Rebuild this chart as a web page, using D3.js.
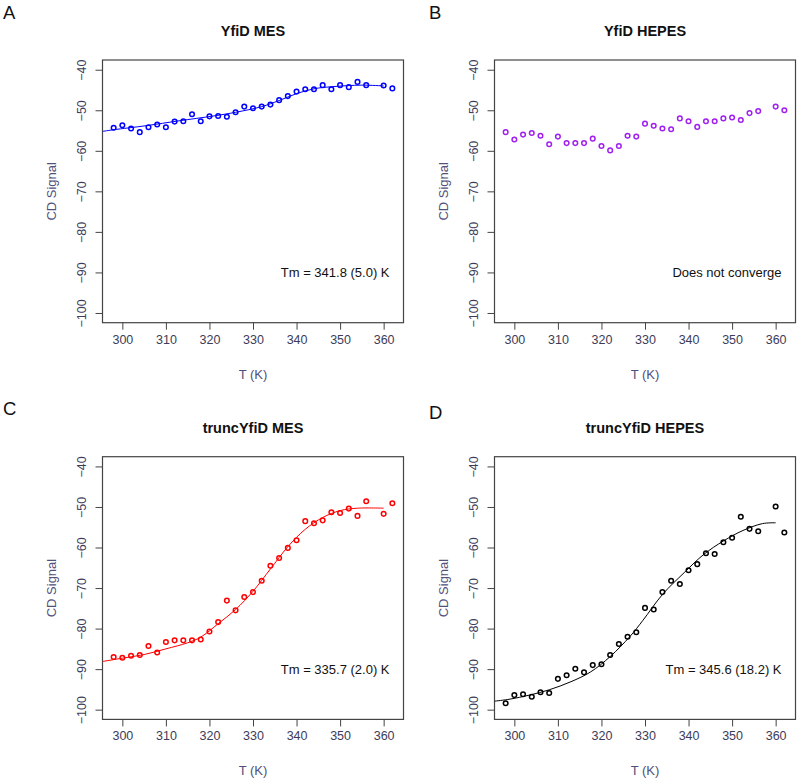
<!DOCTYPE html>
<html>
<head>
<meta charset="utf-8">
<script src="https://cdn.jsdelivr.net/npm/d3@7/dist/d3.min.js"></script>
<style>
body { margin: 0; background: #fff; }
text { font-family: "Liberation Sans", Arial, sans-serif; }
</style>
</head>
<body>
<div id="chart"></div>
<script>
var width = 800, height = 782;

// measured temperatures (K), 358 missing in every run
var temps = [298,300,302,304,306,308,310,312,314,316,318,320,322,324,326,328,
  330,332,334,336,338,340,342,344,346,348,350,352,354,356,360,362];

var yfidMes = [-54.3,-53.7,-54.5,-55.4,-54.2,-53.5,-54.2,-52.8,-52.7,-51.0,-52.7,-51.5,
  -51.4,-51.6,-50.5,-49.1,-49.5,-49.1,-48.6,-47.5,-46.5,-45.4,-44.8,-44.8,-43.8,-44.8,
  -43.8,-44.3,-43.0,-43.8,-43.9,-44.6];
var yfidHepes = [-55.4,-57.2,-56.0,-55.6,-56.3,-58.4,-56.5,-58.1,-58.1,-58.1,-57.0,-58.8,
  -59.9,-58.8,-56.3,-56.5,-53.3,-53.8,-54.5,-54.7,-52.0,-52.7,-54.1,-52.7,-52.7,-52.0,
  -51.8,-52.4,-50.7,-50.2,-49.1,-50.0];
var truncMes = [-87.0,-87.2,-86.7,-86.5,-84.3,-85.9,-83.3,-82.9,-82.9,-82.9,-82.7,-80.7,
  -78.4,-73.1,-75.5,-72.2,-71.0,-68.2,-64.5,-62.6,-60.1,-58.2,-53.5,-54.0,-53.3,-51.3,
  -51.5,-50.4,-52.2,-48.6,-51.7,-49.1];
var truncHepes = [-98.4,-96.4,-96.2,-96.8,-95.7,-95.9,-92.4,-91.5,-89.9,-90.8,-89.0,-88.8,
  -86.5,-83.8,-82.0,-80.9,-74.9,-75.3,-71.0,-68.2,-69.0,-65.6,-64.1,-61.4,-61.6,-58.7,
  -57.6,-52.4,-55.4,-56.0,-49.9,-56.3];

// fitted curves
var fitTempsA = [295.5,298,305.5,313,321,326,332,336,340,344,348,355,360];
var fitA = [-55.2,-54.8,-53.8,-52.6,-51.4,-50.5,-49.1,-47.6,-45.9,-44.7,-44.2,-43.8,-44.0];
var fitTempsC = [295.5,300,305,310,315,318,322,326,330,334,338,342,346,350,354,360];
var fitC = [-88.1,-87.3,-86.4,-85.0,-83.5,-82.1,-78.8,-75.3,-70.8,-65.3,-59.8,-55.5,-52.6,-50.9,-50.3,-50.3];
var fitTempsD = [295.5,299,303.5,308,313,317.5,322,326.5,329.5,334,339,343.5,348,352.5,357,360];
var fitD = [-97.9,-97.4,-96.4,-95.1,-93.1,-90.7,-86.9,-82.0,-78.0,-71.6,-66.2,-61.7,-58.4,-55.8,-54.1,-53.9];

var xTicks = [300,310,320,330,340,350,360];
var yTicks = [-100,-90,-80,-70,-60,-50,-40];
var xDomain = [295.44, 364.56];
var yDomain = [-102.4, -37.6];

var panels = [
  {letter:"A", title:"YfiD MES", values:yfidMes, fitT:fitTempsA, fit:fitA, color:"#0000ff",
   note:"Tm = 341.8 (5.0) K", ox:0, oy:0, lx:3, ly:18.5},
  {letter:"B", title:"YfiD HEPES", values:yfidHepes, fitT:null, fit:null, color:"#a020f0",
   note:"Does not converge", ox:392, oy:0, lx:429, ly:18.5},
  {letter:"C", title:"truncYfiD MES", values:truncMes, fitT:fitTempsC, fit:fitC, color:"#ff0000",
   note:"Tm = 335.7 (2.0) K", ox:0, oy:396.7, lx:3, ly:415},
  {letter:"D", title:"truncYfiD HEPES", values:truncHepes, fitT:fitTempsD, fit:fitD, color:"#000000",
   note:"Tm = 345.6 (18.2) K", ox:392, oy:396.7, lx:429, ly:418.5}
];

var plot = {left: 102.5, top: 60, width: 301, height: 262.7};

var svg = d3.select("#chart")
  .append("svg")
  .attr("width", width)
  .attr("height", height);

panels.forEach(function(p) {
  drawPanel(p);
});

function drawPanel(p)
{
  var x = d3.scaleLinear().domain(xDomain)
    .range([p.ox + plot.left, p.ox + plot.left + plot.width]);
  var y = d3.scaleLinear().domain(yDomain)
    .range([p.oy + plot.top + plot.height, p.oy + plot.top]);

  // panel letter
  svg.append("text")
    .attr("x", p.lx)
    .attr("y", p.ly)
    .attr("font-size", 18.5)
    .attr("fill", "#111")
    .text(p.letter);

  // title
  svg.append("text")
    .attr("x", p.ox + plot.left + plot.width / 2)
    .attr("y", p.oy + 36)
    .attr("text-anchor", "middle")
    .attr("font-size", 14.5)
    .attr("font-weight", "bold")
    .attr("fill", "#111")
    .text(p.title);

  // axes
  var xAxis = svg.append("g")
    .attr("transform", "translate(0," + (p.oy + plot.top + plot.height) + ")")
    .call(d3.axisBottom(x).tickValues(xTicks).tickSize(7).tickSizeOuter(0).tickPadding(5));
  var yAxis = svg.append("g")
    .attr("transform", "translate(" + (p.ox + plot.left) + ",0)")
    .call(d3.axisLeft(y).tickValues(yTicks).tickSize(7).tickSizeOuter(0));

  [xAxis, yAxis].forEach(function(g) {
    g.select(".domain").remove();
    g.selectAll("line").attr("stroke", "#444");
    g.selectAll("text")
      .attr("font-family", "'Liberation Sans', Arial, sans-serif")
      .attr("font-size", 12.5)
      .attr("fill", "#3c3c5a");
  });
  xAxis.selectAll("text").attr("dy", "0.71em");

  // y tick labels parallel to the axis
  yAxis.selectAll(".tick text")
    .attr("x", null)
    .attr("dy", null)
    .attr("text-anchor", "middle")
    .attr("transform", "translate(-16.5,0) rotate(-90)");

  // frame
  svg.append("rect")
    .attr("x", p.ox + plot.left)
    .attr("y", p.oy + plot.top)
    .attr("width", plot.width)
    .attr("height", plot.height)
    .attr("fill", "none")
    .attr("stroke", "#444")
    .attr("stroke-width", 1.2);

  // axis titles
  svg.append("text")
    .attr("x", p.ox + plot.left + plot.width / 2)
    .attr("y", p.oy + 378.5)
    .attr("text-anchor", "middle")
    .attr("font-size", 13)
    .attr("fill", "#50507a")
    .text("T (K)");

  svg.append("text")
    .attr("transform", "translate(" + (p.ox + 56) + "," + (p.oy + plot.top + plot.height / 2) + ") rotate(-90)")
    .attr("text-anchor", "middle")
    .attr("font-size", 13)
    .attr("fill", "#50507a")
    .text("CD Signal");

  // fitted curve
  if (p.fit) {
    var line = d3.line()
      .x(function(d, i) { return x(p.fitT[i]); })
      .y(function(d) { return y(d); })
      .curve(d3.curveCatmullRom.alpha(0.5));
    svg.append("path")
      .datum(p.fit)
      .attr("d", line)
      .attr("fill", "none")
      .attr("stroke", p.color)
      .attr("stroke-width", 1);
  }

  // data points
  svg.append("g")
    .selectAll("circle")
    .data(p.values)
    .enter()
    .append("circle")
    .attr("cx", function(d, i) { return x(temps[i]); })
    .attr("cy", function(d) { return y(d); })
    .attr("r", 2.3)
    .attr("fill", "none")
    .attr("stroke", p.color)
    .attr("stroke-width", 1.5);

  // Tm annotation
  svg.append("text")
    .attr("x", p.ox + plot.left + plot.width - 14)
    .attr("y", y(-90) + 4.5)
    .attr("text-anchor", "end")
    .attr("font-size", 13)
    .attr("fill", "#111")
    .text(p.note);
}
</script>
</body>
</html>
